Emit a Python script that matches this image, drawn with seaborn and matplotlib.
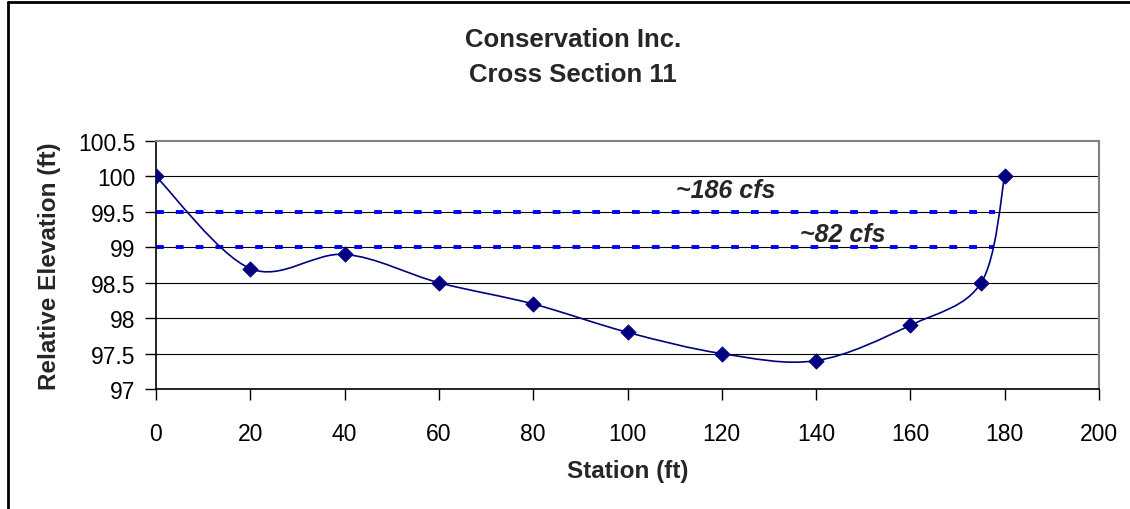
import matplotlib
matplotlib.use("Agg")
import matplotlib.pyplot as plt
import seaborn as sns
import numpy as np
import pandas as pd
from matplotlib.path import Path
from matplotlib.patches import PathPatch
from matplotlib.lines import Line2D

# Surveyed cross section points
station = [0, 20, 40, 60, 80, 100, 120, 140, 160, 175, 180]
elevation = [100, 98.7, 98.9, 98.5, 98.2, 97.8, 97.5, 97.4, 97.9, 98.5, 100]

# Water surface levels for the two flows
flow_labels = ["~186 cfs", "~82 cfs"]
flow_levels = [99.5, 99.0]
flow_ends = [178, 177.5]

y_ticks = [97, 97.5, 98, 98.5, 99, 99.5, 100, 100.5]
y_ticklabels = ["97", "97.5", "98", "98.5", "99", "99.5", "100", "100.5"]
x_ticks = [0, 20, 40, 60, 80, 100, 120, 140, 160, 180, 200]

sns.set_theme(style="white")
plt.rcParams['font.family'] = ['Liberation Sans', 'DejaVu Sans']

fig = plt.figure(figsize=(11.3, 5.1), dpi=100)
ax = fig.add_axes([156 / 1130, 1 - 390 / 510, (1099 - 156) / 1130, (390 - 142) / 510])

# horizontal gridlines, black like the original
for yv in y_ticks[:-1]:
    ax.axhline(yv, color="black", lw=0.8, zorder=1)

# water surface lines
rows = []
for lab, lev, end in zip(flow_labels, flow_levels, flow_ends):
    rows.append({"flow": lab, "x": 0, "y": lev})
    rows.append({"flow": lab, "x": end, "y": lev})
wdf = pd.DataFrame(rows)
sns.lineplot(data=wdf, x="x", y="y", units="flow", estimator=None, color="#0000FF",
             lw=2.8, dashes=False, ax=ax, zorder=2, legend=False)
for ln in ax.get_lines()[-len(flow_labels):]:
    ln.set_dashes((2.0, 3.1))

# smoothed profile drawn as cubic Bezier segments (Excel-style smoothing)
pts = np.column_stack([station, elevation]).astype(float)
verts = [tuple(pts[0])]
codes = [Path.MOVETO]
n = len(pts)
for i in range(n - 1):
    p0 = pts[max(i - 1, 0)]
    p1 = pts[i]
    p2 = pts[i + 1]
    p3 = pts[min(i + 2, n - 1)]
    c1 = p1 + (p2 - p0) / 6.0
    c2 = p2 - (p3 - p1) / 6.0
    verts += [tuple(c1), tuple(c2), tuple(p2)]
    codes += [Path.CURVE4] * 3
ax.add_patch(PathPatch(Path(verts, codes), fill=False, edgecolor="#000080", lw=1.2, zorder=3))

prof = pd.DataFrame({"station": station, "elevation": elevation})
sns.scatterplot(data=prof, x="station", y="elevation", marker="D", s=60, color="#000080",
                edgecolor="#000080", ax=ax, zorder=4, legend=False)

ax.text(110.3, 99.71, flow_labels[0], fontsize=18, fontweight="bold", fontstyle="italic",
        ha="left", va="baseline", zorder=5)
ax.text(136.6, 99.09, flow_labels[1], fontsize=18, fontweight="bold", fontstyle="italic",
        ha="left", va="baseline", zorder=5)

ax.set_xlim(0, 200)
ax.set_ylim(97, 100.5)
ax.set_xticks(x_ticks)
ax.set_yticks(y_ticks)
ax.set_yticklabels(y_ticklabels)
ax.tick_params(axis="both", which="major", direction="out", length=8, width=1, color="black",
               labelsize=16.5, labelcolor="black", bottom=True, left=True)
ax.tick_params(axis="x", pad=16)
ax.tick_params(axis="y", pad=7)

for side in ["left", "bottom"]:
    ax.spines[side].set_color("black")
    ax.spines[side].set_linewidth(1.2)
for side in ["top", "right"]:
    ax.spines[side].set_color("#808080")
    ax.spines[side].set_linewidth(1.5)

ax.set_xlabel("Station (ft)", fontsize=17.5, fontweight="bold", labelpad=10)
ax.set_ylabel("Relative Elevation (ft)", fontsize=17.5, fontweight="bold", labelpad=12)

fig.text(573 / 1130, 1 - 47 / 510, "Conservation Inc.", fontsize=18.5, fontweight="bold",
         ha="center", va="baseline")
fig.text(573 / 1130, 1 - 82 / 510, "Cross Section 11", fontsize=18.5, fontweight="bold",
         ha="center", va="baseline")

# outer chart frame (clipped on the right and bottom like the original)
fig.add_artist(Line2D([8 / 1130, 1.0], [1 - 3 / 510, 1 - 3 / 510], color="black", lw=2,
                      transform=fig.transFigure))
fig.add_artist(Line2D([8 / 1130, 8 / 1130], [0.0, 1 - 3 / 510], color="black", lw=2,
                      transform=fig.transFigure))

fig.savefig("out.png", dpi=100)
